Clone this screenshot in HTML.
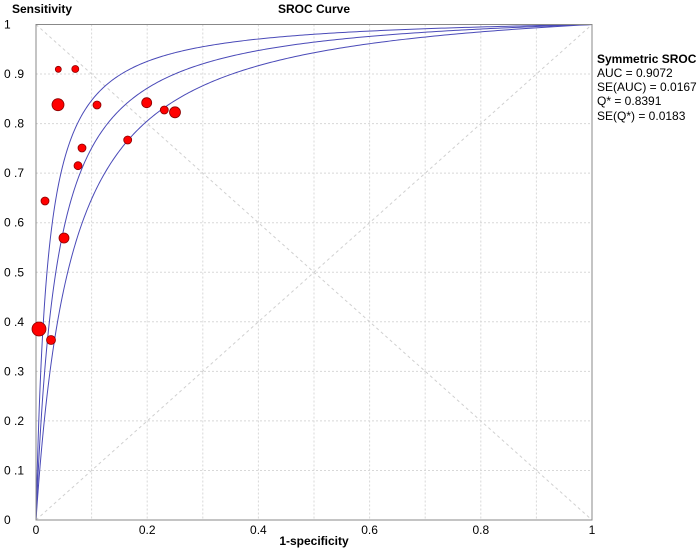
<!DOCTYPE html>
<html><head><meta charset="utf-8"><style>
body{margin:0;background:#fff;}
svg{display:block;font-family:"Liberation Sans",Arial,sans-serif;}
</style></head><body>
<svg id="s" width="700" height="549" viewBox="0 0 700 549">
<rect width="700" height="549" fill="#fff"/>
<g id="grid" stroke="#d8d8d8" stroke-width="1" stroke-dasharray="2,2"></g>
<line x1="36" y1="24.5" x2="592" y2="520" stroke="#d0d0d0" stroke-dasharray="3,3"/>
<line x1="36" y1="520" x2="592" y2="24.5" stroke="#d0d0d0" stroke-dasharray="3,3"/>
<g id="curves" fill="none" stroke="#4a4ab8" stroke-width="1"></g>
<rect x="36" y="24.5" width="556" height="495.5" fill="none" stroke="#888" stroke-width="1"/>
<g id="pts" fill="#ff0000" stroke="#8b0000" stroke-width="0.8"></g>
<g id="lab" font-size="12" fill="#000"></g>
<text x="12" y="13" font-size="12" font-weight="bold">Sensitivity</text>
<text x="314" y="13" font-size="12" font-weight="bold" text-anchor="middle">SROC Curve</text>
<text x="314" y="545" font-size="12" font-weight="bold" text-anchor="middle">1-specificity</text>
<g font-size="12">
<text x="597" y="63" font-weight="bold">Symmetric SROC</text>
<text x="597" y="77">AUC = 0.9072</text>
<text x="597" y="91">SE(AUC) = 0.0167</text>
<text x="597" y="105">Q* = 0.8391</text>
<text x="597" y="120">SE(Q*) = 0.0183</text>
</g>
</svg>
<script>
var NS="http://www.w3.org/2000/svg";
function el(p,t,a){var e=document.createElementNS(NS,t);for(var k in a)e.setAttribute(k,a[k]);document.getElementById(p).appendChild(e);return e;}
var X0=36,X1=592,Y0=520,Y1=24.5;
function px(x){return X0+(X1-X0)*x;} function py(y){return Y0+(Y1-Y0)*y;}
for(var i=1;i<10;i++){el("grid","line",{x1:px(i/10),y1:Y1,x2:px(i/10),y2:Y0});el("grid","line",{x1:X0,y1:py(i/10),x2:X1,y2:py(i/10)});}
var yl=["0","0 .1","0 .2","0 .3","0 .4","0 .5","0 .6","0 .7","0 .8","0 .9","1"];
for(var i=0;i<=10;i++){var t=el("lab","text",{x:4,y:py(i/10)+4});t.textContent=yl[i];}
var xl=["0","0.2","0.4","0.6","0.8","1"];
for(var i=0;i<=5;i++){var t=el("lab","text",{x:px(i/5),y:534,"text-anchor":"middle"});t.textContent=xl[i];}
[3.906,3.299,2.806].forEach(function(D){var d="M"+px(0)+","+py(0);
for(var j=1;j<=400;j++){var f=Math.pow(j/400,3);var s=1/(1+Math.exp(-D)*(1-f)/f);d+=" L"+px(f).toFixed(2)+","+py(s).toFixed(2);}
el("curves","path",{d:d});});
[[58.3,69.3,3],[75.3,69,3.5],[58,104.7,6],[97,105,4],[146.7,102.7,5],[164.3,110,4],[175,112.3,5.5],[82,148,4],[78,165.7,4],[127.7,140,4],[45,201,4],[64,238,5],[39,329,7],[51,340,4.5]].forEach(function(p){el("pts","circle",{cx:p[0],cy:p[1],r:p[2]});});
</script>
</body></html>
